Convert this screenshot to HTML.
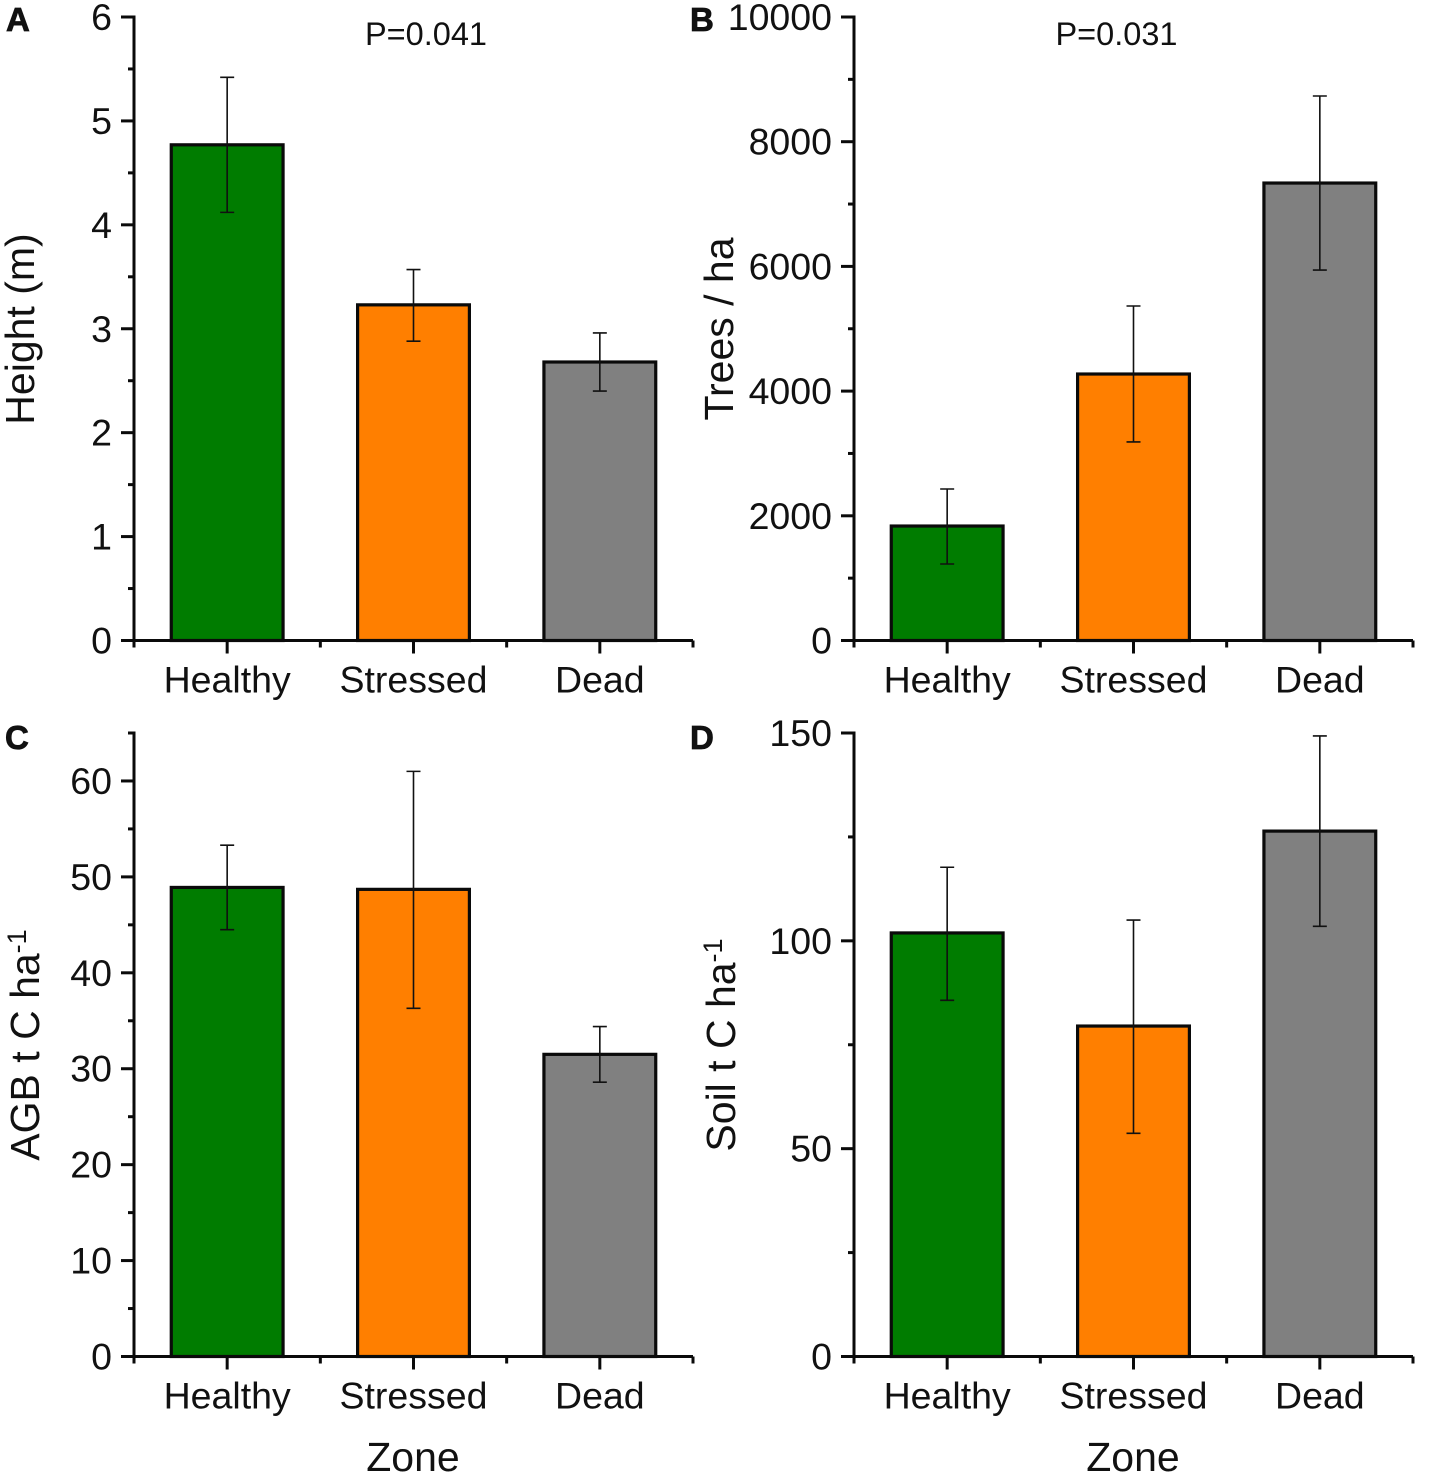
<!DOCTYPE html>
<html lang="en">
<head>
<meta charset="utf-8">
<title>Zone bar charts</title>
<style>
html,body{margin:0;padding:0;background:#fff;width:1450px;height:1474px;overflow:hidden}
svg{display:block}
text{font-family:"Liberation Sans",Arial,sans-serif;fill:#111}
</style>
</head>
<body>
<svg id="figure" width="1450" height="1474" viewBox="0 0 1450 1474" xmlns="http://www.w3.org/2000/svg"></svg>
<script>
const categories = ['Healthy', 'Stressed', 'Dead'];

const heightValues = [4.77, 3.23, 2.68];
const heightUpper = [5.42, 3.57, 2.96];
const heightLower = [4.12, 2.88, 2.40];
const heightTicks = [0, 1, 2, 3, 4, 5, 6];

const treesValues = [1836, 4274, 7337];
const treesUpper = [2430, 5365, 8733];
const treesLower = [1227, 3184, 5942];
const treesTicks = [0, 2000, 4000, 6000, 8000, 10000];

const agbValues = [48.9, 48.7, 31.5];
const agbUpper = [53.3, 61.0, 34.4];
const agbLower = [44.5, 36.3, 28.6];
const agbTicks = [0, 10, 20, 30, 40, 50, 60];
const agbMax = 65;

const soilValues = [101.9, 79.5, 126.4];
const soilUpper = [117.7, 105, 149.3];
const soilLower = [85.7, 53.7, 103.5];
const soilTicks = [0, 50, 100, 150];

const barColors = ['#007c00', '#ff7f00', '#808080'];

const NS = 'http://www.w3.org/2000/svg';
const figure = document.getElementById('figure');

function make(parent, tag, attrs, text) {
  const el = document.createElementNS(NS, tag);
  for (const k in attrs) el.setAttribute(k, attrs[k]);
  if (text !== undefined) el.textContent = text;
  parent.appendChild(el);
  return el;
}

function drawPanel(cfg) {
  const g = make(figure, 'g', {});
  
  

  const xPos = v => cfg.left + (v - 0.5) * (cfg.width / 3);
  const yPos = v => cfg.bottom - (v / cfg.max) * cfg.height;
  const barHalf = 0.3 * (cfg.width / 3);

  // bars and error bars
  cfg.values.forEach((v, i) => {
    const cx = xPos(i + 1);
    const bar = make(g, 'rect', {
      x: cx - barHalf, y: yPos(v), width: barHalf * 2, height: cfg.bottom - yPos(v),
      fill: barColors[i], stroke: '#0a0a0a', 'stroke-width': 3.2
    });
    
    

    const yHi = yPos(cfg.upper[i]);
    const yLo = yPos(cfg.lower[i]);
    const err = make(g, 'path', {
      d: 'M' + cx + ' ' + yHi + 'V' + yLo +
         'M' + (cx - 7) + ' ' + yHi + 'H' + (cx + 7) +
         'M' + (cx - 7) + ' ' + yLo + 'H' + (cx + 7),
      fill: 'none', stroke: '#111', 'stroke-width': 1.6
    });
    
    
  });

  // y axis
  const yAxis = make(g, 'g', {});
  
  
  make(yAxis, 'line', {x1: cfg.left, x2: cfg.left, y1: yPos(cfg.max) - 1.5, y2: cfg.bottom + 1.5, stroke: '#0a0a0a', 'stroke-width': 3});

  const step = cfg.ticks[1] - cfg.ticks[0];
  for (let m = step / 2; m <= cfg.max; m += step) {
    const isMajor = cfg.ticks.includes(m);
    if (!isMajor) {
      make(yAxis, 'line', {x1: cfg.left - 6, x2: cfg.left, y1: yPos(m), y2: yPos(m), stroke: '#0a0a0a', 'stroke-width': 3});
    }
  }
  cfg.ticks.forEach(t => {
    make(yAxis, 'line', {x1: cfg.left - 13, x2: cfg.left, y1: yPos(t), y2: yPos(t), stroke: '#0a0a0a', 'stroke-width': 3});
    const lab = make(yAxis, 'text', {x: cfg.left - 22, y: yPos(t) + 13, 'text-anchor': 'end', 'font-size': 37.5}, String(t));
    
    
  });

  // x axis
  const xAxis = make(g, 'g', {});
  
  
  make(xAxis, 'line', {x1: cfg.left - 1.5, x2: cfg.left + cfg.width, y1: cfg.bottom, y2: cfg.bottom, stroke: '#0a0a0a', 'stroke-width': 3});
  categories.forEach((c, i) => {
    const cx = xPos(i + 1);
    make(xAxis, 'line', {x1: cx, x2: cx, y1: cfg.bottom, y2: cfg.bottom + 13, stroke: '#0a0a0a', 'stroke-width': 3});
    const lab = make(xAxis, 'text', {x: cx, y: cfg.bottom + 52, 'text-anchor': 'middle', 'font-size': 37.5}, c);
    
    
  });
  for (let i = 0; i <= categories.length; i++) {
    const mx = xPos(i + 0.5);
    make(xAxis, 'line', {x1: mx, x2: mx, y1: cfg.bottom, y2: cfg.bottom + 7, stroke: '#0a0a0a', 'stroke-width': 3});
  }

  // y-axis title
  const title = make(g, 'text', {
    transform: 'translate(' + cfg.titleX + ' ' + cfg.titleY + ') rotate(-90)',
    'text-anchor': 'middle', 'font-size': 41
  }, cfg.title);
  
  
  if (cfg.titleSup) {
    const sup = make(title, 'tspan', {dy: -13, 'font-size': 27}, cfg.titleSup);
    
    
  }

  // x-axis title
  if (cfg.xTitle) {
    const xt = make(g, 'text', {x: cfg.left + cfg.width / 2 - 0.5, y: 1471, 'text-anchor': 'middle', 'font-size': 41}, cfg.xTitle);
    
    
  }

  // p-value
  if (cfg.pValue) {
    const p = make(g, 'text', {x: cfg.pX, y: 45, 'text-anchor': 'middle', 'font-size': 32.5}, cfg.pValue);
    
    
  }

  // panel letter
  const letter = make(g, 'text', {x: cfg.letterX, y: cfg.letterY, 'font-size': 33, 'font-weight': 'bold', stroke: '#111', 'stroke-width': 0.8}, cfg.letter);
  
  
}

drawPanel({name: 'height', left: 134, width: 559, bottom: 640.5, height: 623.5, max: 6,
  values: heightValues, upper: heightUpper, lower: heightLower, ticks: heightTicks,
  title: 'Height (m)', titleX: 34, titleY: 329, pValue: 'P=0.041', pX: 426,
  letter: 'A', letterX: 6, letterY: 31});

drawPanel({name: 'trees', left: 854, width: 559, bottom: 640.5, height: 623.5, max: 10000,
  values: treesValues, upper: treesUpper, lower: treesLower, ticks: treesTicks,
  title: 'Trees / ha', titleX: 733, titleY: 329, pValue: 'P=0.031', pX: 1116.5,
  letter: 'B', letterX: 690, letterY: 31});

drawPanel({name: 'agb', left: 134, width: 559, bottom: 1356.5, height: 623.5, max: agbMax,
  values: agbValues, upper: agbUpper, lower: agbLower, ticks: agbTicks,
  title: 'AGB t C ha', titleSup: '-1', titleX: 39, titleY: 1045, xTitle: 'Zone',
  letter: 'C', letterX: 5, letterY: 749});

drawPanel({name: 'soil', left: 854, width: 559, bottom: 1356.5, height: 623.5, max: 150,
  values: soilValues, upper: soilUpper, lower: soilLower, ticks: soilTicks,
  title: 'Soil t C ha', titleSup: '-1', titleX: 735, titleY: 1045, xTitle: 'Zone',
  letter: 'D', letterX: 690, letterY: 749});
</script>
</body>
</html>
